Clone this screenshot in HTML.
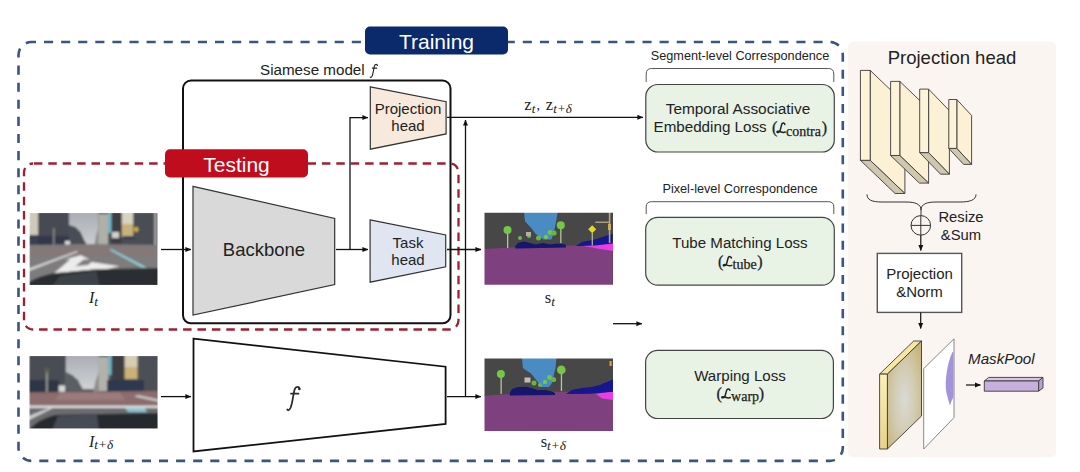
<!DOCTYPE html>
<html><head><meta charset="utf-8">
<style>
html,body{margin:0;padding:0;background:#fff;width:1080px;height:472px;overflow:hidden}
svg{display:block}
.s{font-family:"Liberation Sans",sans-serif;fill:#222}
.m{font-family:"Liberation Serif",serif;fill:#222}
</style></head><body>
<svg width="1080" height="472" viewBox="0 0 1080 472">
<defs>
<marker id="ah" markerWidth="6" markerHeight="6" refX="5.6" refY="3" orient="auto" markerUnits="userSpaceOnUse">
<path d="M0,0.5 L6,3 L0,5.5 z" fill="#111"/>
</marker>
</defs>

<!-- right panel background -->
<rect x="848" y="41.5" width="208" height="416" rx="5" fill="#fbf5f1"/>

<!-- Training dashed box -->
<rect x="18.5" y="42" width="824.3" height="418.9" rx="13" fill="none" stroke="#3d5380" stroke-width="2.6" stroke-dasharray="9.1 8" stroke-dashoffset="4.6"/>
<!-- Training label -->
<rect x="365" y="26.5" width="143" height="28" rx="5" fill="#0b2a6c"/>
<text x="436.5" y="48.5" text-anchor="middle" class="s" style="fill:#fff;font-size:21px">Training</text>

<!-- Siamese model box -->
<text x="260" y="74.6" class="s" style="font-size:15.2px">Siamese model</text>
<defs><path id="mf" d="M13.0,2.6 C12.6,-0.2 9.2,-0.4 7.9,2.9 C6.6,7.5 6.0,15.5 4.0,21 C2.9,23.5 1.2,24.4 0.6,23.0 M4.3,7.2 L11.8,7.2" fill="none" stroke-linecap="round"/></defs>
<use href="#mf" transform="translate(369.9,64.1) scale(0.58,0.56)" stroke="#222" stroke-width="1.9"/>
<rect x="183" y="80.5" width="267.5" height="242.8" rx="8" fill="none" stroke="#111" stroke-width="2"/>

<!-- Testing dashed box -->
<rect x="24" y="163.5" width="434.5" height="166" rx="9" fill="none" stroke="#9e2030" stroke-width="2.3" stroke-dasharray="8.5 5.9" stroke-dashoffset="13.5"/>
<rect x="165" y="149.2" width="143" height="28.3" rx="5" fill="#c00d1e"/>
<text x="236.5" y="171.7" text-anchor="middle" class="s" style="fill:#fff;font-size:21px">Testing</text>

<!-- Backbone -->
<polygon points="193,186.3 334.7,218.5 334.7,284.6 193,315.1" fill="#d9d9d9" stroke="#333" stroke-width="1.2"/>
<text x="264" y="255.8" text-anchor="middle" class="s" style="font-size:18.5px">Backbone</text>

<!-- Projection head -->
<polygon points="370.3,86.8 446.1,101.7 446.1,133.9 370.3,149.2" fill="#f7e9dc" stroke="#333" stroke-width="1.2"/>
<text x="408" y="113.9" text-anchor="middle" class="s" style="font-size:15px">Projection</text>
<text x="408" y="131.4" text-anchor="middle" class="s" style="font-size:15px">head</text>

<!-- Task head -->
<polygon points="370.1,219.9 445.7,235 445.7,266.8 370.1,282.2" fill="#dfe6f2" stroke="#333" stroke-width="1.2"/>
<text x="408" y="247.5" text-anchor="middle" class="s" style="font-size:15px">Task</text>
<text x="408" y="265.3" text-anchor="middle" class="s" style="font-size:15px">head</text>

<!-- f trapezoid -->
<polygon points="193.5,338.7 445.6,366.7 445.6,424 193.5,451.4" fill="#fff" stroke="#111" stroke-width="1.8"/>
<use href="#mf" transform="translate(286.7,386.5) scale(1,1)" stroke="#2a2a2a" stroke-width="1.75"/><circle cx="299.2" cy="389" r="1.2" fill="#2a2a2a"/>

<!-- arrows -->
<g stroke="#111" stroke-width="1.3" fill="none">
<line x1="161" y1="249.5" x2="191" y2="249.5" marker-end="url(#ah)"/>
<line x1="336" y1="249.5" x2="368" y2="249.5" marker-end="url(#ah)"/>
<polyline points="350,249.5 350,117.6 368,117.6" marker-end="url(#ah)"/>
<line x1="447" y1="249.5" x2="481" y2="249.5" marker-end="url(#ah)"/>
<line x1="447" y1="117.3" x2="643" y2="117.3" marker-end="url(#ah)"/>
<line x1="465.5" y1="396.6" x2="465.5" y2="120" marker-end="url(#ah)"/>
<line x1="161" y1="396.6" x2="191" y2="396.6" marker-end="url(#ah)"/>
<line x1="447" y1="396.6" x2="481" y2="396.6" marker-end="url(#ah)"/>
<line x1="613" y1="323.7" x2="642" y2="323.7" marker-end="url(#ah)"/>
</g>

<!-- z label -->
<text x="524.3" y="109.8" class="m" style="font-size:16.5px">z</text><text x="531.8" y="112.8" class="m" style="font-size:13px;font-style:italic">t</text><text x="536.5" y="110" class="m" style="font-size:14px">,</text>
<text x="545.8" y="109.8" class="m" style="font-size:16.5px">z</text><text x="553.3" y="112.8" class="m" style="font-size:13px;font-style:italic">t+δ</text>

<!-- photos -->
<defs>
<clipPath id="c1"><rect x="29.5" y="213" width="128" height="72"/></clipPath>
<clipPath id="c2"><rect x="29.3" y="356" width="128.3" height="72.5"/></clipPath>
<clipPath id="c3"><rect x="484.5" y="212.7" width="128.5" height="72"/></clipPath>
<clipPath id="c4"><rect x="484.5" y="358.6" width="128.5" height="72.5"/></clipPath>
<filter id="bl" x="-5%" y="-5%" width="110%" height="110%"><feGaussianBlur stdDeviation="0.9"/></filter>
<filter id="bl2" x="-5%" y="-5%" width="110%" height="110%"><feGaussianBlur stdDeviation="0.55"/></filter>
<linearGradient id="sky" x1="0" y1="0" x2="0" y2="1"><stop offset="0" stop-color="#a9adb3"/><stop offset="1" stop-color="#d0d2d4"/></linearGradient>
</defs>
<g clip-path="url(#c1)"><g filter="url(#bl)">
<rect x="29" y="212" width="130" height="74" fill="#606062"/>
<rect x="60" y="212" width="45" height="37" fill="url(#sky)"/>
<rect x="29" y="212" width="9.5" height="23" fill="#cfc9bc"/>
<rect x="29" y="235" width="9.5" height="13" fill="#3a4050"/>
<rect x="38.2" y="212" width="30.9" height="36" fill="#464a52"/>
<rect x="38.2" y="236" width="30" height="12" fill="#30384a"/>
<polygon points="69,225 75.5,227 80.5,232 84,239.7 87.3,245.6 87.3,248 69,248" fill="#4a4d54"/>
<rect x="53" y="228" width="1.6" height="20" fill="#8a8a88"/>
<rect x="65" y="241" width="5" height="5" fill="#dcdcd8"/>
<rect x="98.5" y="212" width="60" height="36" fill="#4c4e54"/>
<polygon points="94,248 96,236 98.5,228 98.5,248" fill="#8a8c8c"/>
<rect x="98.5" y="214" width="9.7" height="33" fill="#aeb0aa"/>
<rect x="108.2" y="212" width="3.4" height="21" fill="#72bccc"/>
<rect x="111.6" y="212" width="10.2" height="34" fill="#3c3e42"/>
<rect x="112" y="232" width="7" height="6" fill="#d0d0cc"/>
<rect x="121.8" y="212" width="11.4" height="12" fill="#d8d2c0"/>
<rect x="121.8" y="224" width="11.4" height="13" fill="#c8b27c"/>
<rect x="123" y="236" width="12" height="3" fill="#303a5a"/>
<circle cx="136.2" cy="229.5" r="2.4" fill="#d0b030"/>
<rect x="154.5" y="212" width="1.8" height="35" fill="#c0c0c0"/>
<polygon points="29,245 92,244 159,245 159,270 29,282" fill="#7e7b7b"/>
<polygon points="29,247 80,246 110,246 159,249 159,256 29,256" fill="#847878"/>
<polygon points="29,268.5 76.9,251 78,252 29,271" fill="#dcdcdc"/>
<polygon points="108.7,249.5 112,249.5 147,267.5 142,267.5" fill="#90d4dc"/>
<polygon points="54.3,273 70.2,259.5 64.7,259.5 80.6,255.3 89.7,259.5 83.6,259.5 68.3,272" fill="#ececec"/>
<polygon points="72,266.5 88,265 91.5,262 119.7,266.3 96.5,271.2 94.5,269.5 66,272" fill="#ececec"/>
<path d="M29,282 Q40,276 52.4,273.6 L96.5,269.3 L159,268 L159,286 L29,286 z" fill="#2a2d31"/>
<polygon points="52,286 60,276 96,271 100,286" fill="#3c424a"/>
</g></g>

<g clip-path="url(#c2)"><g filter="url(#bl)">
<rect x="29" y="355" width="130" height="75" fill="#5c5c5e"/>
<rect x="62" y="355" width="40" height="34" fill="url(#sky)"/>
<rect x="29" y="355" width="36.8" height="37.5" fill="#4a4d53"/>
<rect x="29" y="380" width="30" height="12.5" fill="#2e3544"/>
<polygon points="65.8,372 72,375 78,380 81,386 84,391 65.8,392" fill="#5a5e64"/>
<rect x="46" y="372" width="1.8" height="20" fill="#9a9a90"/>
<circle cx="47" cy="370" r="2.5" fill="#5a6050"/>
<rect x="58.6" y="385.4" width="6.4" height="6.4" fill="#d8d8d4"/>
<rect x="98.9" y="355" width="60" height="37" fill="#4e5056"/>
<polygon points="93,392 96,380 98.9,372 98.9,392" fill="#8a8c8c"/>
<rect x="98.9" y="357" width="9.6" height="34" fill="#b2b2ac"/>
<rect x="108.5" y="355" width="3.2" height="20" fill="#72bccc"/>
<rect x="111.7" y="355" width="12.9" height="26" fill="#3c3e42"/>
<rect x="124.6" y="355" width="12.9" height="12" fill="#d6ceb4"/>
<rect x="124.6" y="367" width="12.9" height="12" fill="#c8b276"/>
<rect x="107" y="380" width="37" height="11.5" fill="#2e3850"/>
<polygon points="29,392.6 159,391 159,405.5 29,405.5" fill="#8c6c6c"/>
<polygon points="60,393 120,392.5 125,400 55,400" fill="#9a7c7c"/>
<polygon points="138,395 159,399.5 159,402 134,396.5" fill="#c8c8c8"/>
<rect x="29" y="405.5" width="130" height="2.6" fill="#dcdcdc"/>
<polygon points="29,408.1 159,408.1 159,430 29,430" fill="#6c6c70"/>
<polygon points="29,416 49,408.1 53,408.1 29,420" fill="#d0d0d0"/>
<polygon points="125,408.1 145,408.1 147,412 128,412" fill="#8cc4d0"/>
<path d="M29,430 Q38,419 55,415 L100,414 L159,413 L159,430 z" fill="#26292d"/>
<polygon points="52,430 58,416 97,414.5 99,430" fill="#464c54"/>
</g></g>

<g clip-path="url(#c3)"><g filter="url(#bl2)">
<rect x="484" y="212" width="130" height="74" fill="#474747"/>
<polygon points="524,212 557.7,212 556.1,221.4 553.8,232.4 551.4,239.4 543.6,239.4 535.7,234 531,227.7 525.1,221.4" fill="#4c8bc4"/>
<polygon points="484,249 520,247 546.7,245.5 581,245.5 612.6,243 612.6,286 484,286" fill="#7f3f80"/>
<polygon points="581,245.5 598,243.5 613,242.5 613,251 600,249" fill="#ea3ee6"/>
<polygon points="515.4,246 518,243 524,241.5 530,243 536,244.5 543,243 550,244.5 557,243.5 565.5,244.5 566,247.5 515.4,248.5" fill="#14146e"/>
<polygon points="576,246 582,242 590,240.5 597,239 604,236.5 612.6,234 612.6,243.5 595,245.5" fill="#121290"/>
<circle cx="546" cy="237" r="2.2" fill="#74c64a"/><circle cx="550" cy="232.5" r="2.4" fill="#74c64a"/><circle cx="520" cy="238" r="2" fill="#70b848"/>
<rect x="507" y="232" width="1.3" height="16" fill="#b4c890"/>
<circle cx="507.5" cy="230" r="4" fill="#74c64a"/>
<rect x="560.2" y="227" width="1.3" height="16" fill="#b4c890"/>
<circle cx="560.8" cy="225.3" r="4" fill="#74c64a"/>
<circle cx="554" cy="233" r="2.6" fill="#66b83a"/>
<circle cx="538.5" cy="238" r="2.5" fill="#6ab640"/>
<circle cx="529" cy="236" r="2" fill="#70b848"/>
<rect x="526" y="232" width="5" height="4" fill="#b0b0a0"/>
<polygon points="592.2,225.2 596.2,229.2 592.2,233.2 588.2,229.2" fill="#e2d81e"/>
<rect x="591.7" y="233" width="1.1" height="12.5" fill="#c8c8b0"/>
<rect x="608.8" y="212" width="1.6" height="31" fill="#b8a888"/>
<rect x="595.3" y="221.6" width="14" height="1.3" fill="#b8a888"/>
<rect x="608" y="224" width="3" height="6" fill="#c8b060"/>
</g></g>

<g clip-path="url(#c4)"><g filter="url(#bl2)">
<rect x="484" y="357" width="130" height="76" fill="#474747"/>
<polygon points="521.9,357 556.5,357 555.5,368 553.5,376 552,383 549,387 541,387 537.8,382 531,373.5 523,368.3" fill="#4c8bc4"/>
<polygon points="484,395.7 520,393.5 545.2,391.6 580,392 613,392.4 613,433 484,433" fill="#7f3f80"/>
<polygon points="596,394 606,392 613,391 613,400 602,398.5" fill="#ea3ee6"/>
<polygon points="509.8,393 512,389 518,387 526,386.8 533,388.5 537.2,390 545,390 552,391.5 555,393 555,395 509.8,395.5" fill="#14146e"/>
<polygon points="566,394 572,390 582,388 592,387 600,385 607,382 613,379.5 613,391.8 590,393.8" fill="#121290"/>
<circle cx="545" cy="382" r="2.2" fill="#74c64a"/><circle cx="549.5" cy="377.5" r="2.4" fill="#74c64a"/><circle cx="540" cy="385" r="2" fill="#70b848"/>
<rect x="500.5" y="376" width="1.3" height="18" fill="#b4c890"/>
<circle cx="500.9" cy="373.9" r="4" fill="#74c64a"/>
<rect x="560.8" y="372" width="1.3" height="19" fill="#b4c890"/>
<circle cx="561.3" cy="369.9" r="4.3" fill="#74c64a"/>
<circle cx="553.5" cy="379.5" r="2.6" fill="#66b83a"/>
<circle cx="534" cy="383" r="2.5" fill="#6ab640"/>
<rect x="524.5" y="377.5" width="6" height="5" fill="#c0c0b0"/>
<rect x="609.5" y="361" width="2.2" height="5" fill="#e0a030"/>
</g></g>

<!-- image labels -->
<text x="89" y="302.8" class="m" style="font-size:16px;font-style:italic">I</text><text x="94.3" y="306.3" class="m" style="font-size:13.3px;font-style:italic">t</text>
<text x="89" y="446.8" class="m" style="font-size:16px;font-style:italic">I</text><text x="94.3" y="449.4" class="m" style="font-size:13.3px;font-style:italic">t+δ</text>
<text x="544.7" y="303" class="m" style="font-size:16.5px">s</text><text x="551.3" y="306.3" class="m" style="font-size:13.3px;font-style:italic">t</text>
<text x="540.7" y="446.5" class="m" style="font-size:16.5px">s</text><text x="547" y="449.6" class="m" style="font-size:13.3px;font-style:italic">t+δ</text>

<!-- loss section -->
<text x="740" y="60.4" text-anchor="middle" class="s" style="font-size:12.7px">Segment-level Correspondence</text>
<path d="M646.2,82 L646.2,74 Q646.2,68.5 651.5,68.5 L828.5,68.5 Q833.8,68.5 833.8,74 L833.8,82" fill="none" stroke="#555" stroke-width="1"/>
<rect x="645.8" y="84.5" width="188.5" height="67.5" rx="12" fill="#e8f2e5" stroke="#444" stroke-width="1.2"/>
<defs><path id="scL" d="M8.6,1.8 C8.3,0.3 6.6,-0.1 5.6,1.1 C4.7,2.3 4.4,6 3.3,8.3 C2.6,9.6 0.4,9.9 0.3,9.1 C0.2,8.3 2.2,8.2 4,8.9 C5.6,9.5 7.5,9.9 9,9.2" fill="none" stroke="#222" stroke-width="1.55" stroke-linecap="round"/></defs>
<text x="738" y="113.8" text-anchor="middle" class="s" style="font-size:15.4px">Temporal Associative</text>
<text x="653.5" y="131.7" class="s" style="font-size:15.2px">Embedding Loss</text>
<text x="772" y="132.5" class="m" style="font-size:16px;stroke:#222;stroke-width:0.3">(</text>
<use href="#scL" transform="translate(776.7,122.6) scale(0.95,1.03)"/>
<text x="786" y="135.5" class="m" style="font-size:14px;stroke:#222;stroke-width:0.25">contra</text>
<text x="821.8" y="132.5" class="m" style="font-size:16px;stroke:#222;stroke-width:0.3">)</text>

<text x="740" y="193.4" text-anchor="middle" class="s" style="font-size:12.7px">Pixel-level Correspondence</text>
<path d="M646.2,214 L646.2,207 Q646.2,201.7 651.5,201.7 L828.5,201.7 Q833.8,201.7 833.8,207 L833.8,214" fill="none" stroke="#555" stroke-width="1"/>
<rect x="645.7" y="217.4" width="188.6" height="67.7" rx="12" fill="#e8f2e5" stroke="#444" stroke-width="1.2"/>
<text x="740" y="247.9" text-anchor="middle" class="s" style="font-size:15.1px">Tube Matching Loss</text>
<text x="718" y="266.5" class="m" style="font-size:16px;stroke:#222;stroke-width:0.3">(</text>
<use href="#scL" transform="translate(723,256.2) scale(0.98,1.0)"/>
<text x="732.6" y="268.5" class="m" style="font-size:14px;stroke:#222;stroke-width:0.25">tube</text>
<text x="757.2" y="266.5" class="m" style="font-size:16px;stroke:#222;stroke-width:0.3">)</text>

<rect x="645.6" y="350.3" width="187.8" height="68.2" rx="12" fill="#e8f2e5" stroke="#444" stroke-width="1.2"/>
<text x="740" y="381" text-anchor="middle" class="s" style="font-size:15.1px">Warping Loss</text>
<text x="716.5" y="398.6" class="m" style="font-size:16px;stroke:#222;stroke-width:0.3">(</text>
<use href="#scL" transform="translate(721.5,388.6) scale(0.98,0.97)"/>
<text x="731.1" y="400.8" class="m" style="font-size:14px;stroke:#222;stroke-width:0.25">warp</text>
<text x="758.8" y="398.6" class="m" style="font-size:16px;stroke:#222;stroke-width:0.3">)</text>

<!-- right panel -->
<text x="952" y="63.8" text-anchor="middle" class="s" style="font-size:18.5px">Projection head</text>

<text x="961" y="221.5" text-anchor="middle" class="s" style="font-size:14.8px">Resize</text>
<text x="961" y="240.2" text-anchor="middle" class="s" style="font-size:14.8px">&amp;Sum</text>
<circle cx="920.8" cy="225.4" r="9.8" fill="none" stroke="#333" stroke-width="1"/>
<line x1="911" y1="225.4" x2="930.6" y2="225.4" stroke="#333" stroke-width="1"/>
<line x1="920.8" y1="215.6" x2="920.8" y2="235.2" stroke="#333" stroke-width="1"/>
<line x1="920.8" y1="235.2" x2="920.8" y2="250.5" stroke="#111" stroke-width="1.2" marker-end="url(#ah)"/>
<path d="M867,194.4 C867,200 872,202 882,202 L906,202 C915,202 921,204 921,210 L921,215.6 M921,210 C921,204 927,202 936,202 L960,202 C970,202 976,200 976,194.4" fill="none" stroke="#333" stroke-width="1"/>

<rect x="877.3" y="253.4" width="84.4" height="59" fill="#fff" stroke="#555" stroke-width="1.4"/>
<text x="919.5" y="279.2" text-anchor="middle" class="s" style="font-size:15px">Projection</text>
<text x="919.5" y="297.1" text-anchor="middle" class="s" style="font-size:15px">&amp;Norm</text>
<line x1="920.7" y1="312.4" x2="920.7" y2="328.5" stroke="#111" stroke-width="1.2" marker-end="url(#ah)"/>

<text x="968" y="364.4" class="s" style="font-size:15.2px;font-style:italic">MaskPool</text>
<line x1="966" y1="385" x2="980.5" y2="385" stroke="#111" stroke-width="1.2" marker-end="url(#ah)"/>

<!-- 3D blocks -->
<g stroke="#3a3a3a" stroke-width="0.9" stroke-linejoin="round">
<polygon points="870.2,70.4 904.9,103.6 904.9,193.5 870.2,160.3" fill="#fcf1d4"/>
<polygon points="860.4,160.3 870.2,160.3 904.9,193.5 895.1,193.5" fill="#cfc7ae"/>
<rect x="860.4" y="70.4" width="9.8" height="89.9" fill="#fdf3d8"/>
<polygon points="899.8,81.4 928.6,109.0 928.6,183.1 899.8,155.5" fill="#fcf1d4"/>
<polygon points="890.6,155.5 899.8,155.5 928.6,183.1 919.4,183.1" fill="#cfc7ae"/>
<rect x="890.6" y="81.4" width="9.2" height="74.1" fill="#fdf3d8"/>
<polygon points="928.6,89.1 949.4,110.7 949.4,174.2 928.6,152.6" fill="#fcf1d4"/>
<polygon points="919.7,152.6 928.6,152.6 949.4,174.2 940.5,174.2" fill="#cfc7ae"/>
<rect x="919.7" y="89.1" width="8.9" height="63.5" fill="#fdf3d8"/>
<polygon points="956.8,99.5 971.6,115.5 971.6,164.4 956.8,148.4" fill="#fcf1d4"/>
<polygon points="948.8,148.4 956.8,148.4 971.6,164.4 963.6,164.4" fill="#cfc7ae"/>
<rect x="948.8" y="99.5" width="8.0" height="48.9" fill="#fdf3d8"/>
</g>
<defs>
<linearGradient id="fy" x1="0" y1="0" x2="0" y2="1"><stop offset="0" stop-color="#fbf0b8"/><stop offset="1" stop-color="#e8d28a"/></linearGradient>
<radialGradient id="fr" cx="0.5" cy="0.55" r="0.65"><stop offset="0" stop-color="#dadad6"/><stop offset="0.5" stop-color="#d2cbb0"/><stop offset="1" stop-color="#c6b57c"/></radialGradient>
</defs>
<g stroke="#3a3a3a" stroke-width="0.9" stroke-linejoin="round">
<polygon points="879.6,374.1 887.4,374.1 921.5,341 913.7,341" fill="#f7e7a4"/>
<polygon points="887.4,374.1 921.5,341 921.5,416 887.4,449" fill="url(#fr)"/>
<rect x="879.6" y="374.1" width="7.8" height="74.9" fill="url(#fy)"/>
<polygon points="923.7,368.6 954,338.8 954,417.6 923.7,449" fill="#ffffff" stroke="#6a6a6a" stroke-width="0.8"/>
</g>
<path d="M952.5,352 C949.5,358 947.5,366 946.5,374 C945.5,382 945.3,390 947.3,396 C948.3,400 949,403 950,405.5 L951.5,401 C952.5,399 953.3,398 953.5,396 L953.5,352 z" fill="#a393da" stroke="none" filter="url(#bl2)"/>
<g stroke="#3a3a3a" stroke-width="0.9" stroke-linejoin="round">
<polygon points="984.3,381 1038.6,381 1043,377.4 988.7,377.4" fill="#d8c4e6"/>
<polygon points="1038.6,381 1043,377.4 1043,387.9 1038.6,391.2" fill="#b9a2cc"/>
<rect x="984.3" y="381" width="54.3" height="10.2" fill="#c8b0dc"/>
</g>

</svg>
</body></html>
